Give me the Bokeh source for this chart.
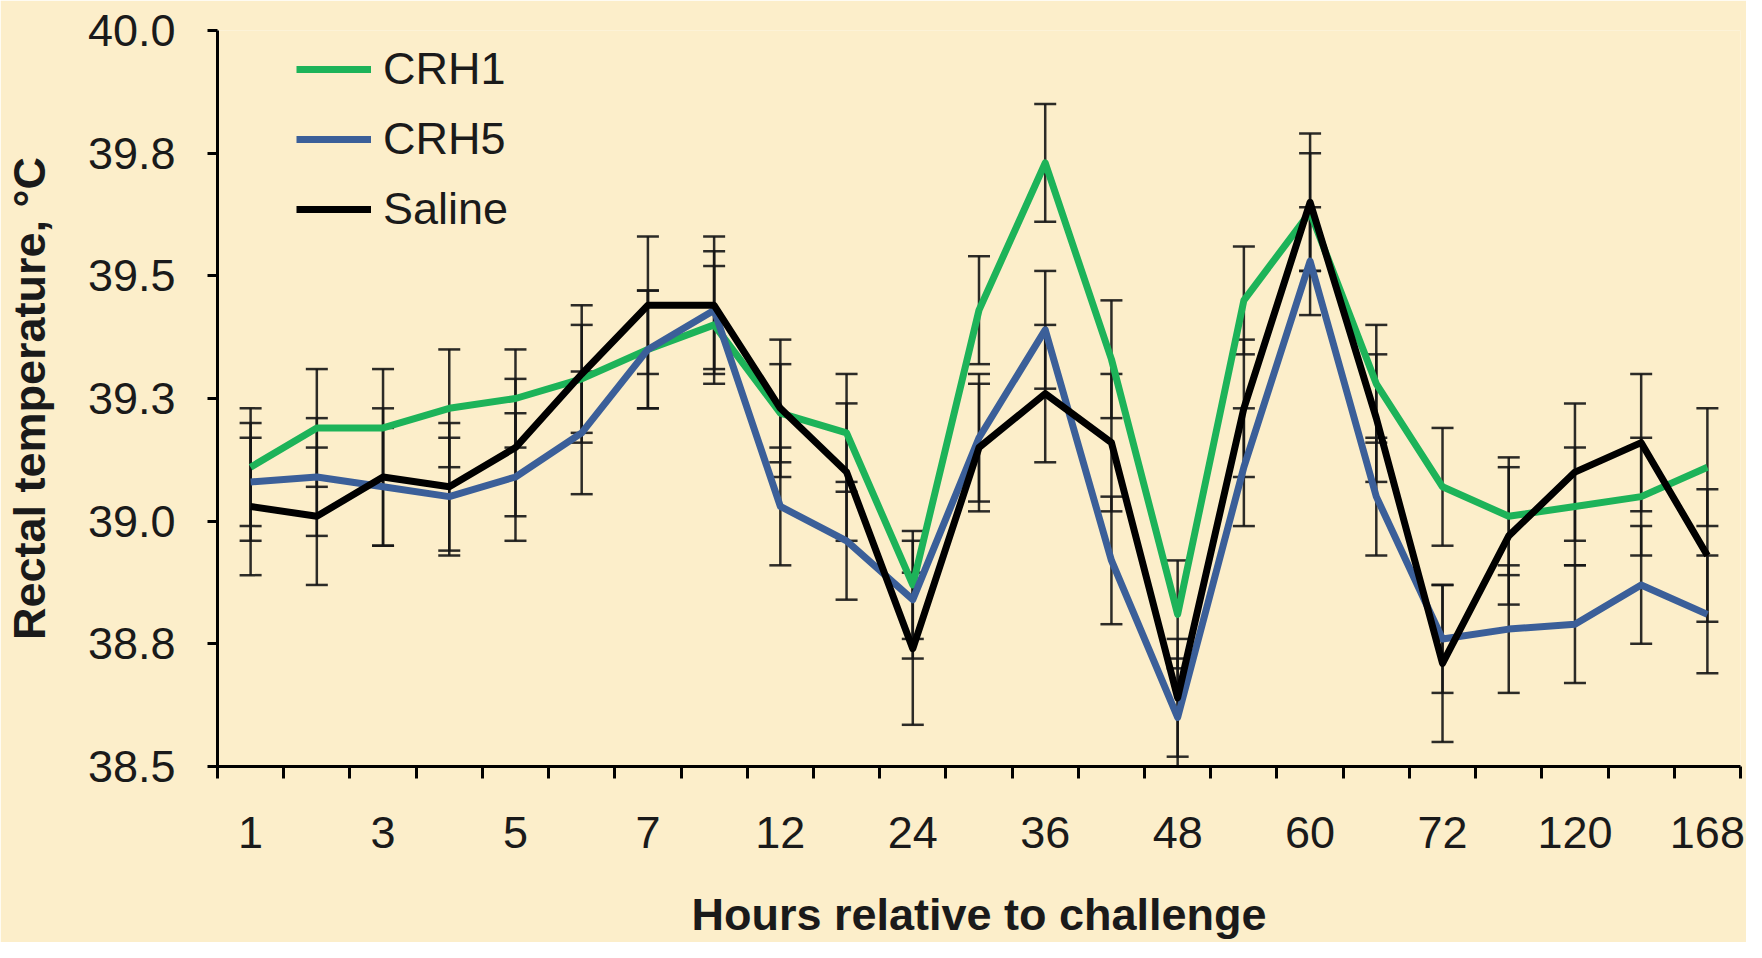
import numpy as np
from bokeh.plotting import figure
from bokeh.models import (Range1d, FixedTicker, Whisker, TeeHead, ColumnDataSource,
                          Legend, LegendItem)
from bokeh.embed import file_html
from bokeh.resources import INLINE

# ---------------- data ----------------
hours = [1, 2, 3, 4, 5, 6, 7, 8, 12, 18, 24, 30, 36, 42, 48, 54, 60, 66, 72, 96, 120, 144, 168]

crh1 = [39.11, 39.19, 39.19, 39.23, 39.25, 39.29, 39.35, 39.40, 39.22, 39.18, 38.87, 39.43,
        39.73, 39.33, 38.81, 39.45, 39.63, 39.28, 39.07, 39.01, 39.03, 39.05, 39.11]
crh5 = [39.08, 39.09, 39.07, 39.05, 39.09, 39.18, 39.35, 39.43, 39.03, 38.96, 38.84, 39.17,
        39.39, 38.92, 38.60, 39.11, 39.53, 39.05, 38.76, 38.78, 38.79, 38.87, 38.81]
saline = [39.03, 39.01, 39.09, 39.07, 39.15, 39.30, 39.44, 39.44, 39.23, 39.10, 38.74, 39.15,
          39.26, 39.16, 38.64, 39.23, 39.65, 39.21, 38.71, 38.97, 39.10, 39.16, 38.93]

crh1_se = [0.12, 0.12, 0.12, 0.12, 0.10, 0.11, 0.12, 0.12, 0.10, 0.12, 0.11, 0.11,
           0.12, 0.12, 0.11, 0.11, 0.12, 0.12, 0.12, 0.12, 0.12, 0.12, 0.12]
crh5_se = [0.12, 0.12, 0.12, 0.12, 0.13, 0.125, 0.12, 0.12, 0.12, 0.12, 0.12, 0.13,
           0.12, 0.13, 0.12, 0.12, 0.11, 0.12, 0.11, 0.13, 0.12, 0.12, 0.12]
saline_se = [0.14, 0.14, 0.14, 0.13, 0.14, 0.14, 0.14, 0.14, 0.14, 0.14, 0.155, 0.13,
             0.14, 0.14, 0.12, 0.14, 0.14, 0.13, 0.16, 0.14, 0.14, 0.14, 0.135]

series_names = ["CRH1", "CRH5", "Saline"]
series_colors = ["#1DB359", "#3B5F99", "#000000"]

y_ticks = [38.5, 38.75, 39.0, 39.25, 39.5, 39.75, 40.0]
y_tick_labels = ["38.5", "38.8", "39.0", "39.3", "39.5", "39.8", "40.0"]

x_title = "Hours relative to challenge"
y_title = "Rectal temperature, \u00b0C"

# ---------------- styling ----------------
BG = "#FCEECA"
FONT = "Liberation Sans"
FS = "45px"

idx = list(range(len(hours)))
ymin, ymax = y_ticks[0], y_ticks[-1]

p = figure(width=1746, height=942, output_backend="svg", toolbar_location=None,
           x_range=Range1d(-0.5, len(hours) - 0.5), y_range=Range1d(ymin, ymax),
           min_border_left=214, min_border_right=6, min_border_top=30, min_border_bottom=172)
p.background_fill_color = BG
p.border_fill_color = BG
p.outline_line_color = None
p.grid.visible = False

# error bars
for vals, se in [(crh1, crh1_se), (crh5, crh5_se), (saline, saline_se)]:
    v = np.array(vals)
    e = np.array(se)
    src = ColumnDataSource(dict(x=idx, upper=v + e, lower=np.maximum(v - e, ymin)))
    w = Whisker(source=src, base="x", upper="upper", lower="lower", dimension="height",
                line_color="#151515", line_width=2.5, line_alpha=0.9,
                upper_head=TeeHead(size=22, line_color="#151515", line_width=2.5, line_alpha=0.9),
                lower_head=TeeHead(size=22, line_color="#151515", line_width=2.5, line_alpha=0.9))
    p.add_layout(w)

renderers = []
for vals, col in zip([crh1, crh5, saline], series_colors):
    r = p.line(idx, vals, line_width=7, line_color=col, line_join="round")
    renderers.append(r)

legend = Legend(items=[LegendItem(label=n, renderers=[r]) for n, r in zip(series_names, renderers)],
                location=(79, 531), padding=0, margin=0, spacing=18,
                glyph_width=75, glyph_height=52, label_height=52, label_standoff=12,
                label_text_font=FONT, label_text_font_size=FS, label_text_color="#1a1a1a",
                border_line_color=None, background_fill_alpha=0)
p.add_layout(legend)

# x axis
xa = p.xaxis[0]
xa.ticker = FixedTicker(ticks=idx[::2], minor_ticks=[i - 0.5 for i in range(len(hours) + 1)])
xa.major_label_overrides = {i: str(hours[i]) for i in idx[::2]}
xa.major_tick_out = 0
xa.major_tick_in = 0
xa.minor_tick_out = 12
xa.minor_tick_in = 0
xa.minor_tick_line_width = 3
xa.minor_tick_line_color = "black"
xa.axis_line_width = 3
xa.axis_line_color = "black"
xa.major_label_standoff = 38
xa.major_label_text_font = FONT
xa.major_label_text_font_size = FS
xa.major_label_text_color = "#1a1a1a"
xa.axis_label = x_title
xa.axis_label_text_font = FONT
xa.axis_label_text_font_size = FS
xa.axis_label_text_font_style = "bold"
xa.axis_label_text_color = "#1a1a1a"
xa.axis_label_standoff = 38

# y axis
ya = p.yaxis[0]
ya.ticker = FixedTicker(ticks=y_ticks)
ya.major_label_overrides = {t: l for t, l in zip(y_ticks, y_tick_labels)}
ya.major_tick_out = 10
ya.major_tick_in = 0
ya.major_tick_line_width = 3
ya.major_tick_line_color = "black"
ya.minor_tick_out = 0
ya.minor_tick_in = 0
ya.axis_line_width = 3
ya.axis_line_color = "black"
ya.major_label_standoff = 32
ya.major_label_text_font = FONT
ya.major_label_text_font_size = FS
ya.major_label_text_color = "#1a1a1a"
ya.axis_label = y_title
ya.axis_label_text_font = FONT
ya.axis_label_text_font_size = FS
ya.axis_label_text_font_style = "bold"
ya.axis_label_text_color = "#1a1a1a"
ya.axis_label_standoff = 30

open("out.html", "w").write(file_html(p, INLINE))
